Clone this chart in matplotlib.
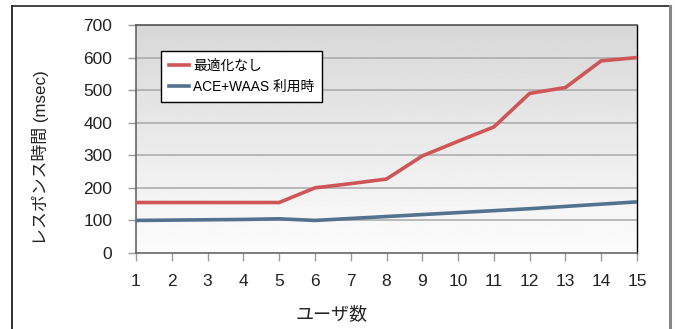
import numpy as np
import matplotlib.pyplot as plt
from matplotlib.lines import Line2D

plt.rcParams['font.family'] = ['Liberation Sans', 'Noto Sans CJK JP', 'DejaVu Sans']

users = list(range(1, 16))
no_opt = [155, 155, 155, 155, 155, 200, 213, 227, 298, 343, 387, 490, 508, 590, 600]
ace_waas = [100, 101, 102, 103, 105, 100, 106, 112, 118, 124, 130, 136, 143, 150, 157]
labels = ['最適化なし', 'ACE+WAAS 利用時']
yticks = [0, 100, 200, 300, 400, 500, 600, 700]

RED = '#cf5658'
BLUE = '#52728f'

fig = plt.figure(figsize=(6.75, 3.29), dpi=100)
W, H = 675, 329

# outer frame (open at the bottom)
frame_l, frame_t, frame_r = 12 / W, 1 - 6 / H, 670 / W
fig.add_artist(Line2D([frame_l, frame_l], [0, frame_t], color='#111111', lw=1.2))
fig.add_artist(Line2D([frame_l, frame_r], [frame_t, frame_t], color='#222222', lw=1.2))
fig.add_artist(Line2D([frame_r, frame_r], [0, frame_t], color='#888888', lw=2.2))

ax = fig.add_axes([136 / W, 1 - 253 / H, (637 - 136) / W, (253 - 25) / H])

# vertical gradient background: white at the bottom, grey at the top
grad = np.linspace(0.99, 0.845, 256).reshape(-1, 1)
ax.imshow(grad, cmap='gray', vmin=0, vmax=1, aspect='auto', origin='lower',
          extent=[1, 15, 0, 700], zorder=0)

for y in yticks[1:]:
    ax.axhline(y, color='#a8a8a8', lw=1.1, zorder=1)

ax.plot(users, no_opt, color=RED, lw=2.6, label=labels[0], zorder=3)
ax.plot(users, ace_waas, color=BLUE, lw=2.6, label=labels[1], zorder=3)

ax.set_xlim(1, 15)
ax.set_ylim(0, 700)
ax.set_xticks(users)
ax.set_yticks(yticks)
ax.tick_params(axis='both', labelsize=12.5, labelcolor='#222222', color='#999999',
               length=6, width=1, direction='out')
ax.tick_params(axis='y', pad=11)
ax.tick_params(axis='x', pad=9)

for side in ['left', 'bottom']:
    ax.spines[side].set_color('#666666')
    ax.spines[side].set_linewidth(1.2)
ax.spines['top'].set_color('#555555')
ax.spines['top'].set_linewidth(1.2)
ax.spines['right'].set_color('#000000')
ax.spines['right'].set_linewidth(1.0)

ax.set_xlabel('ユーザ数', fontsize=13, color='#222222', va='center')
ax.set_ylabel('レスポンス時間 (msec)', fontsize=12.2, color='#222222', va='center')
ax.xaxis.set_label_coords((332 - 136) / (637 - 136), -(315 - 253) / (253 - 25))
ax.yaxis.set_label_coords(-(136 - 41) / (637 - 136), (253 - 158) / (253 - 25))

leg = ax.legend(loc='upper left', bbox_to_anchor=(161 / W, 1 - 51 / H),
                bbox_transform=fig.transFigure, borderaxespad=0, fontsize=9.9,
                frameon=True, fancybox=False, framealpha=1, edgecolor='#000000',
                handlelength=1.5, handletextpad=0.3, borderpad=0.55, labelspacing=0.55)
leg.get_frame().set_linewidth(1.0)

fig.savefig('out.png', dpi=100)
